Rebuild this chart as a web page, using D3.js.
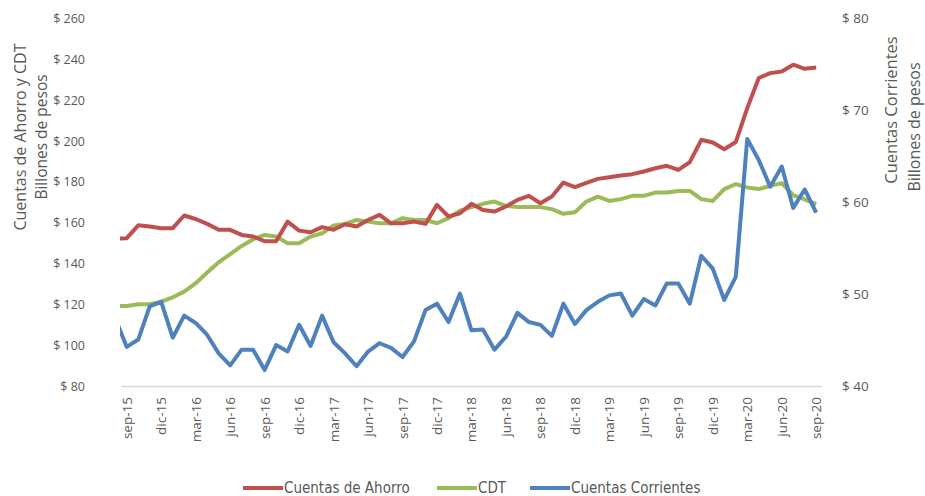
<!DOCTYPE html>
<html>
<head>
<meta charset="utf-8">
<script src="https://cdn.jsdelivr.net/npm/d3@7"></script>
<style>
  html, body { margin: 0; padding: 0; background: #fff; }
  svg { display: block; }
</style>
</head>
<body>
<svg id="chart" width="925" height="496"></svg>
<script>
const categories = [
  "ago-15","sep-15","oct-15","nov-15","dic-15",
  "ene-16","feb-16","mar-16","abr-16","may-16","jun-16","jul-16","ago-16","sep-16","oct-16","nov-16","dic-16",
  "ene-17","feb-17","mar-17","abr-17","may-17","jun-17","jul-17","ago-17","sep-17","oct-17","nov-17","dic-17",
  "ene-18","feb-18","mar-18","abr-18","may-18","jun-18","jul-18","ago-18","sep-18","oct-18","nov-18","dic-18",
  "ene-19","feb-19","mar-19","abr-19","may-19","jun-19","jul-19","ago-19","sep-19","oct-19","nov-19","dic-19",
  "ene-20","feb-20","mar-20","abr-20","may-20","jun-20","jul-20","ago-20","sep-20"
];
const tickLabels = ["sep-15","dic-15","mar-16","jun-16","sep-16","dic-16","mar-17","jun-17","sep-17","dic-17",
  "mar-18","jun-18","sep-18","dic-18","mar-19","jun-19","sep-19","dic-19","mar-20","jun-20","sep-20"];

const ahorro = [152.3,
  152.5,158.8,158.2,157.4,157.4,163.6,161.9,159.5,156.6,156.6,
  154.1,153.3,151.0,151.0,160.6,156.2,155.4,157.9,156.6,159.3,
  158.2,161.4,163.9,159.8,159.8,160.6,159.5,168.8,163.1,164.7,
  169.3,166.3,165.5,168.0,171.2,173.2,169.6,172.9,179.7,177.5,
  179.5,181.5,182.3,183.1,183.8,185.1,186.7,187.9,185.9,189.7,
  200.6,199.3,196.0,199.5,216.1,230.8,233.2,234.0,237.3,235.3,236.0];
const cdt = [119.3,
  119.4,120.2,120.2,121.5,123.6,126.4,130.5,135.7,140.7,144.7,
  148.7,152.0,154.1,153.3,150.0,150.0,153.3,154.9,158.7,159.5,
  161.4,160.6,159.8,159.8,162.3,161.4,161.4,159.8,162.3,166.0,
  167.7,169.3,170.4,168.3,167.7,167.7,167.7,166.7,164.4,165.2,
  170.4,172.8,170.7,171.6,173.2,173.2,174.8,174.8,175.6,175.6,
  171.6,170.7,176.5,178.9,177.3,176.5,178.1,179.4,173.5,171.5,169.2];
const corrientes = [47.4,
  44.3,45.1,48.7,49.2,45.3,47.7,46.9,45.6,43.6,42.3,
  44.0,44.0,41.8,44.5,43.8,46.7,44.4,47.7,44.8,43.6,
  42.2,43.8,44.7,44.2,43.2,44.9,48.3,49.0,47.0,50.1,
  46.1,46.2,44.0,45.4,48.0,47.0,46.7,45.5,49.0,46.8,
  48.3,49.2,49.9,50.1,47.7,49.5,48.8,51.2,51.2,49.0,
  54.2,52.8,49.4,51.9,66.9,64.6,61.7,63.9,59.4,61.4,58.9];

const leftTicks = [80,100,120,140,160,180,200,220,240,260];
const rightTicks = [40,50,60,70,80];
const seriesNames = ["Cuentas de Ahorro","CDT","Cuentas Corrientes"];
const colors = ["#C0504D","#9BBB59","#4F81BD"];

const svg = d3.select("#chart");
const plot = {left: 120, right: 822, top: 18.3, bottom: 386.5};

const x = d3.scalePoint().domain(categories).range([115.26, 816.2]);
const yL = d3.scaleLinear().domain([80, 260]).range([plot.bottom, plot.top]);
const yR = d3.scaleLinear().domain([40, 80]).range([plot.bottom, plot.top]);

const textColor = "#595959";
const tickFont = "'Open Sans', sans-serif";

svg.append("defs").append("clipPath").attr("id","clip")
  .append("rect").attr("x", plot.left).attr("y", 0).attr("width", plot.right - plot.left + 20).attr("height", 496);

// x axis line
svg.append("line").attr("x1", 121).attr("x2", plot.right)
  .attr("y1", plot.bottom).attr("y2", plot.bottom)
  .attr("stroke", "#D9D9D9").attr("stroke-width", 1.3);

// x tick labels
svg.append("g").selectAll("text").data(tickLabels).join("text")
  .attr("transform", d => `translate(${x(d) + 5},397) rotate(-90)`)
  .attr("text-anchor", "end")
  .attr("font-family", tickFont).attr("font-size", "13.5px").attr("fill", textColor)
  .text(d => d);

// left axis
const leftAxis = d3.axisLeft(yL).tickValues(leftTicks).tickSize(0).tickPadding(0)
  .tickFormat(d => "$ " + d);
const gL = svg.append("g").attr("transform", "translate(85,0)").call(leftAxis);
gL.select(".domain").remove();
gL.selectAll("text").attr("font-family", tickFont).attr("font-size", "12.5px").attr("fill", textColor);

// right axis
const rightAxis = d3.axisRight(yR).tickValues(rightTicks).tickSize(0).tickPadding(0)
  .tickFormat(d => "$ " + d);
const gR = svg.append("g").attr("transform", "translate(842,0)").call(rightAxis);
gR.select(".domain").remove();
gR.selectAll("text").attr("font-family", tickFont).attr("font-size", "13.5px").attr("fill", textColor);

// axis titles
const titleFont = "'Open Sans', sans-serif";
const lt = svg.append("g").attr("font-family", titleFont).attr("font-size", "16px").attr("fill", textColor)
  .attr("text-anchor", "middle");
lt.append("text").attr("transform", "translate(26,137) rotate(-90)").text("Cuentas de Ahorro y CDT");
lt.append("text").attr("transform", "translate(47,137) rotate(-90)").attr("font-size", "15.5px").text("Billones de pesos");
lt.append("text").attr("transform", "translate(897,110) rotate(-90)").attr("font-size", "16.5px").text("Cuentas Corrientes");
lt.append("text").attr("transform", "translate(920,127) rotate(-90)").text("Billones de pesos");

// lines
const lineL = d3.line().x((d, i) => x(categories[i])).y(d => yL(d));
const lineR = d3.line().x((d, i) => x(categories[i])).y(d => yR(d));
const gLines = svg.append("g").attr("clip-path", "url(#clip)");
gLines.append("path").datum(cdt).attr("d", lineL)
  .attr("fill", "none").attr("stroke", colors[1]).attr("stroke-width", 4).attr("stroke-linejoin", "round");
gLines.append("path").datum(ahorro).attr("d", lineL)
  .attr("fill", "none").attr("stroke", colors[0]).attr("stroke-width", 4).attr("stroke-linejoin", "round");
gLines.append("path").datum(corrientes).attr("d", lineR)
  .attr("fill", "none").attr("stroke", colors[2]).attr("stroke-width", 4).attr("stroke-linejoin", "round");

// legend
const legendX = [243, 437, 530];
const lg = svg.append("g");
seriesNames.forEach((name, i) => {
  lg.append("line").attr("x1", legendX[i]).attr("x2", legendX[i] + 40)
    .attr("y1", 488).attr("y2", 488).attr("stroke", colors[i]).attr("stroke-width", 4);
  lg.append("text").attr("x", legendX[i] + 41).attr("y", 493)
    .attr("font-family", "'Liberation Sans Narrow', 'DejaVu Sans Condensed', sans-serif")
    .attr("font-size", "15px").attr("fill", textColor).text(name);
});
</script>
</body>
</html>
